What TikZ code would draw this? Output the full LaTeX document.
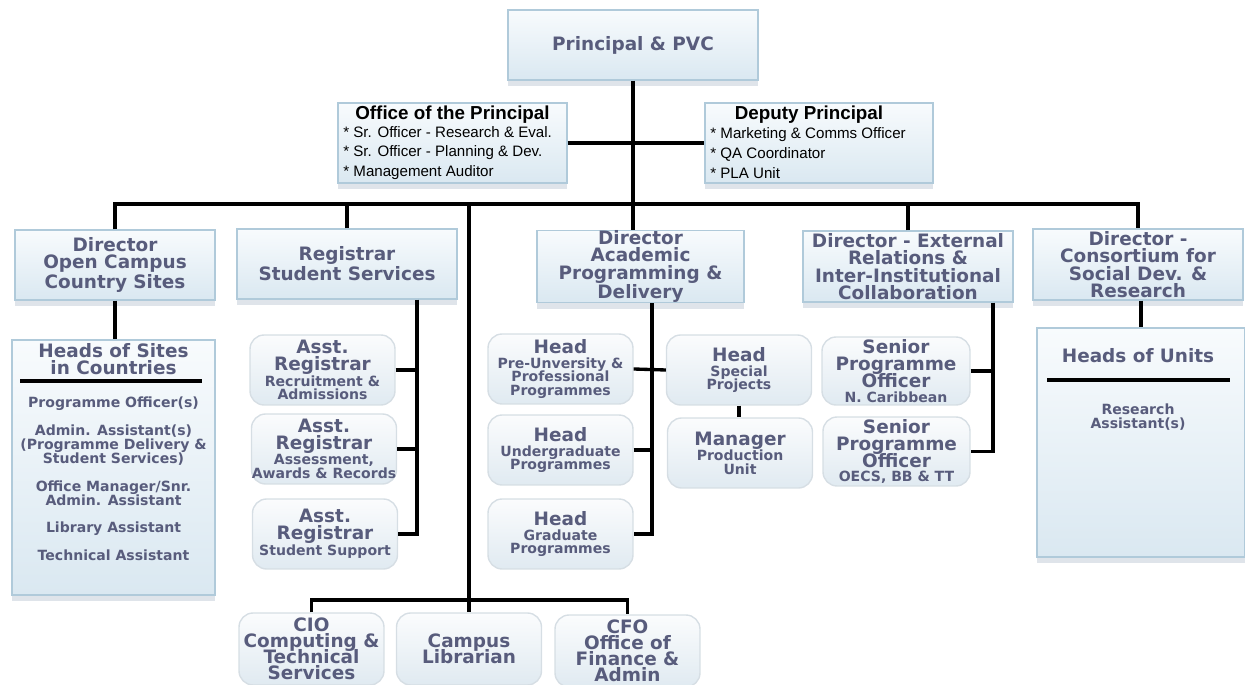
\documentclass[tikz,border=0pt]{standalone}
\usepackage{fontspec}
\setmainfont{DejaVu Sans}
\newfontfamily\listfont{Liberation Sans}
\usetikzlibrary{shadows}
\newcommand\orgbig{\fontsize{10.5}{9.9}\selectfont\bfseries}
\newcommand\orgsub{\fontsize{10.5}{7.9}\selectfont\bfseries\lineskiplimit=-20pt}
\newcommand\orgsmall{\fontsize{8}{7.9}\selectfont\bfseries}

\begin{document}
\begin{tikzpicture}[x=0.02cm,y=-0.02cm,
    mainbox/.style={shape=rectangle,draw=orgedge,line width=0.8pt,top color=orgtop,bottom color=orgbottom,
        drop shadow={shadow xshift=0pt,shadow yshift=-3.5pt,opacity=0.22,fill=orgshadow},
        text=orgtext,font=\orgbig,align=center,inner sep=0pt,minimum width=4.2cm,minimum height=1.4cm},
    subbox/.style={shape=rectangle,rounded corners=8pt,draw=subedge,line width=0.8pt,top color=subtop,bottom color=subbottom,
        text=orgtext,font=\orgsub,align=center,inner sep=0pt,minimum width=2.9cm,minimum height=1.4cm},
    titletext/.style={text=orgtext,font=\orgsub,align=center,inner sep=0pt},
    listtitle/.style={font=\listfont\fontsize{10.7}{12}\selectfont\bfseries,inner sep=0pt},
    listtext/.style={anchor=west,align=left,inner sep=0pt,font=\listfont\fontsize{8.6}{11.3}\selectfont},
    wire/.style={draw=black,line width=1.9pt}]
    \definecolor{orgtext}{RGB}{88,92,124}
    \definecolor{orgedge}{RGB}{176,202,218}
    \definecolor{orgtop}{RGB}{248,251,253}
    \definecolor{orgbottom}{RGB}{218,232,241}
    \definecolor{orgshadow}{RGB}{110,130,160}
    \definecolor{subedge}{RGB}{214,222,228}
    \definecolor{subtop}{RGB}{251,252,253}
    \definecolor{subbottom}{RGB}{224,234,241}
    \useasboundingbox (0,0) rectangle (1245,685);

    \node[mainbox,minimum width=5cm] (pvc) at (633,45) {Principal \& PVC};
    \node[mainbox,minimum width=4.58cm,minimum height=1.6cm] (office) at (452.5,143) {};
    \node[listtitle] (officet) at (452.5,115) {Office of the Principal};
    \node[listtext] (officel) at (343,153) {* Sr. Officer - Research \& Eval.\\* Sr. Officer - Planning \& Dev.\\* Management Auditor};
    \node[mainbox,minimum width=4.56cm,minimum height=1.6cm] (deputy) at (819,143) {};
    \node[listtitle] (deputyt) at (809,115) {Deputy Principal};
    \node[listtext] (deputyl) at (710,153) {* Marketing \& Comms Officer\\* QA Coordinator\\* PLA Unit};

    \node[mainbox,minimum width=4cm] (dirOC) at (115,265) {Director\\Open Campus\\Country Sites};
    \node[mainbox,minimum width=4.4cm] (registrar) at (347,264) {Registrar\\Student Services};
    \node[mainbox,minimum width=4.14cm,minimum height=1.42cm] (dirAcad) at (640.5,266.5) {Director\\Academic\\Programming \&\\Delivery};
    \node[mainbox,minimum width=4.2cm,minimum height=1.42cm] (dirExt) at (908,266.5) {Director - External\\Relations \&\\Inter-Institutional\\Collaboration};
    \node[mainbox,minimum width=4.2cm,minimum height=1.42cm] (dirCons) at (1138,264.5) {Director -\\Consortium for\\Social Dev. \&\\Research};

    \node[mainbox,minimum width=4.06cm,minimum height=5.1cm] (sites) at (113.5,467.5) {};
    \node[titletext] (sitest) at (113.5,359) {Heads of Sites\\[1.8pt]in Countries};
    \draw[wire] (20,381) -- (202,381);
    \node[titletext,font=\orgsmall] (sitesl) at (113.5,479) {Programme Officer(s)\\[7.9pt]Admin. Assistant(s)\\(Programme Delivery \&\\Student Services)\\[7.9pt]Office Manager/Snr.\\Admin. Assistant\\[7.9pt]Library Assistant\\[7.9pt]Technical Assistant};

    \node[mainbox,minimum width=4.16cm,minimum height=4.58cm] (units) at (1141,442.5) {};
    \node[titletext] (unitst) at (1138,356) {Heads of Units};
    \draw[wire] (1047,380) -- (1230,380);
    \node[titletext,font=\orgsmall] (unitsl) at (1138,417.5) {Research\\Assistant(s)};

    \node[subbox] (ar1) at (322.5,370) {Asst.\\[1.7pt]Registrar\\[1.2pt]{\orgsmall Recruitment \&}\\{\orgsmall Admissions}};
    \node[subbox] (ar2) at (324,449) {Asst.\\[1.7pt]Registrar\\[0.5pt]{\orgsmall Assessment,}\\{\orgsmall Awards \& Records}};
    \node[subbox] (ar3) at (325,534) {Asst.\\[2pt]Registrar\\[1.2pt]{\orgsmall Student Support}};

    \node[subbox] (hPre) at (560.5,369) {Head\\[0.6pt]{\orgsmall Pre-Unversity \&}\\{\orgsmall Professional}\\{\orgsmall Programmes}};
    \node[subbox] (hUnd) at (560.5,450) {Head\\[0.6pt]{\orgsmall Undergraduate}\\{\orgsmall Programmes}};
    \node[subbox] (hGrad) at (560.5,534) {Head\\[0.6pt]{\orgsmall Graduate}\\{\orgsmall Programmes}};
    \node[subbox] (hSpec) at (739,370) {Head\\[0.6pt]{\orgsmall Special}\\{\orgsmall Projects}};
    \node[subbox] (mProd) at (740,453) {Manager\\[0.6pt]{\orgsmall Production}\\{\orgsmall Unit}};

    \node[subbox,minimum width=2.96cm,minimum height=1.36cm] (spoN) at (896,371) {Senior\\[1.8pt]Programme\\[1.8pt]Officer\\[0.6pt]{\orgsmall N. Caribbean}};
    \node[subbox,minimum width=2.94cm,minimum height=1.38cm] (spoO) at (896.5,451.5) {Senior\\[1.8pt]Programme\\[1.8pt]Officer\\[0.2pt]{\orgsmall OECS, BB \& TT}};

    \node[subbox,minimum height=1.44cm] (cio) at (311.5,649) {CIO\\[1.3pt]Computing \&\\[1.3pt]Technical\\[1.3pt]Services};
    \node[subbox,minimum height=1.44cm] (lib) at (469,649) {Campus\\[1.3pt]Librarian};
    \node[subbox,minimum height=1.44cm] (cfo) at (627.5,651) {CFO\\[1.3pt]Office of\\[1.3pt]Finance \&\\[1.3pt]Admin};

    \coordinate (bus) at (0,204);
    \coordinate (lowbus) at (0,600);
    \coordinate (regbar) at (417,0);
    \coordinate (acadbar) at (652,0);
    \coordinate (extbar) at (993,0);
    \draw[wire] (pvc.south) -- (pvc.south |- dirAcad.north);
    \draw[wire] (office.east) -- (deputy.west);
    \draw[wire] (dirOC.north) -- (dirOC.north |- bus) -- (dirCons.north |- bus) -- (dirCons.north);
    \foreach \n in {registrar,dirExt}
        \draw[wire] (\n.north) -- (\n.north |- bus);
    \draw[wire] (lib.north |- bus) -- (lib.north);
    \draw[wire] (cio.north) -- (cio.north |- lowbus) -- (cfo.north |- lowbus) -- (cfo.north);
    \draw[wire] (dirOC.south) -- (dirOC.south |- sites.north);
    \draw[wire] (registrar.south -| regbar) -- (ar3.east -| regbar) -- (ar3.east);
    \foreach \n in {ar1,ar2}
        \draw[wire] (\n.east) -- (\n.east -| regbar);
    \draw[wire] (dirAcad.south -| acadbar) -- (hGrad.east -| acadbar) -- (hGrad.east);
    \draw[wire] (hUnd.east) -- (hUnd.east -| acadbar);
    \draw[wire] (hPre.east) -- (hSpec.west);
    \draw[wire] (hSpec.south) -- (hSpec.south |- mProd.north);
    \draw[wire] (dirExt.south -| extbar) -- (spoO.east -| extbar) -- (spoO.east);
    \draw[wire] (spoN.east) -- (spoN.east -| extbar);
    \draw[wire] (units.north |- dirCons.south) -- (units.north);
\end{tikzpicture}
\end{document}
